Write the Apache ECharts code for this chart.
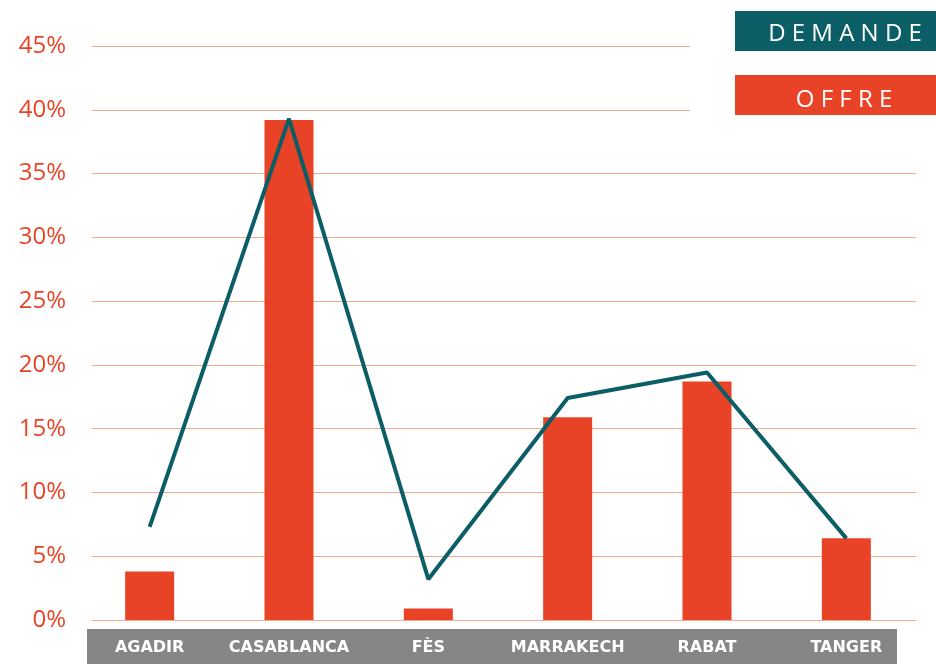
<!DOCTYPE html>
<html>
<head>
<meta charset="utf-8">
<script src="https://cdn.jsdelivr.net/npm/echarts@6/dist/echarts.min.js"></script>
<style>
html,body{margin:0;padding:0;background:#fff;}
#chart{width:936px;height:664px;}
</style>
</head>
<body>
<div id="chart"></div>
<script>
const categories = ['AGADIR', 'CASABLANCA', 'FÈS', 'MARRAKECH', 'RABAT', 'TANGER'];
const offre = [3.8, 39.2, 0.9, 15.9, 18.7, 6.4];
const demande = [7.3, 39.3, 3.2, 17.4, 19.4, 6.4];
const yTicks = [0, 5, 10, 15, 20, 25, 30, 35, 40, 45];
const seriesNames = ['DEMANDE', 'OFFRE'];

const RED = '#E84326';
const TEAL = '#0B5D66';
const GRID = '#F6A98A';
const GREY = '#868686';

const spaced = s => s.split('').join(' ');

const chart = echarts.init(document.getElementById('chart'));
chart.setOption({
  animation: false,
  backgroundColor: '#ffffff',
  grid: [
    {left: 80, right: 20, top: 46, bottom: 44},
    {left: 92, right: 20, top: 46, bottom: 44}
  ],
  xAxis: [
    {
      type: 'category', gridIndex: 0, data: categories, z: 10,
      axisLine: {show: false}, axisTick: {show: false},
      axisLabel: {interval: 0, hideOverlap: false, color: '#ffffff', fontFamily: 'DejaVu Sans', fontWeight: 'bold', fontSize: 16, margin: 20}
    },
    {type: 'value', gridIndex: 1, show: false, min: 0, max: 1}
  ],
  yAxis: [
    {type: 'value', gridIndex: 0, min: yTicks[0], max: yTicks[yTicks.length - 1], interval: 5, show: false},
    {
      type: 'value', gridIndex: 1, min: yTicks[0], max: yTicks[yTicks.length - 1], interval: 5,
      axisLine: {show: false}, axisTick: {show: false},
      splitLine: {show: true, lineStyle: {color: GRID, width: 1.2}},
      axisLabel: {
        color: RED, fontFamily: 'Open Sans', fontSize: 24, margin: 26,
        padding: [0, 0, 10, 0],
        formatter: v => v + '%'
      }
    }
  ],
  graphic: [
    {type: 'rect', z: 1, shape: {x: 87, y: 629, width: 810, height: 35}, style: {fill: GREY}},
    {type: 'rect', z: 2, shape: {x: 690, y: 0, width: 246, height: 125}, style: {fill: '#ffffff'}},
    {type: 'rect', z: 5, shape: {x: 735, y: 11, width: 201, height: 40}, style: {fill: TEAL}},
    {type: 'text', z: 6, x: 845, y: 34, style: {text: spaced(seriesNames[0]), fill: '#ffffff', fontFamily: 'Open Sans', fontSize: 24, align: 'center', verticalAlign: 'middle'}},
    {type: 'rect', z: 5, shape: {x: 735, y: 75, width: 201, height: 40}, style: {fill: RED}},
    {type: 'text', z: 6, x: 844, y: 100, style: {text: spaced(seriesNames[1]), fill: '#ffffff', fontFamily: 'Open Sans', fontSize: 24, align: 'center', verticalAlign: 'middle'}}
  ],
  series: [
    {
      name: seriesNames[1], type: 'bar', xAxisIndex: 0, yAxisIndex: 0,
      data: offre, barWidth: 49, itemStyle: {color: RED}, z: 3
    },
    {
      name: seriesNames[0], type: 'line', xAxisIndex: 0, yAxisIndex: 0,
      data: demande, symbol: 'none', lineStyle: {color: TEAL, width: 4}, z: 4
    }
  ]
});
</script>
</body>
</html>
